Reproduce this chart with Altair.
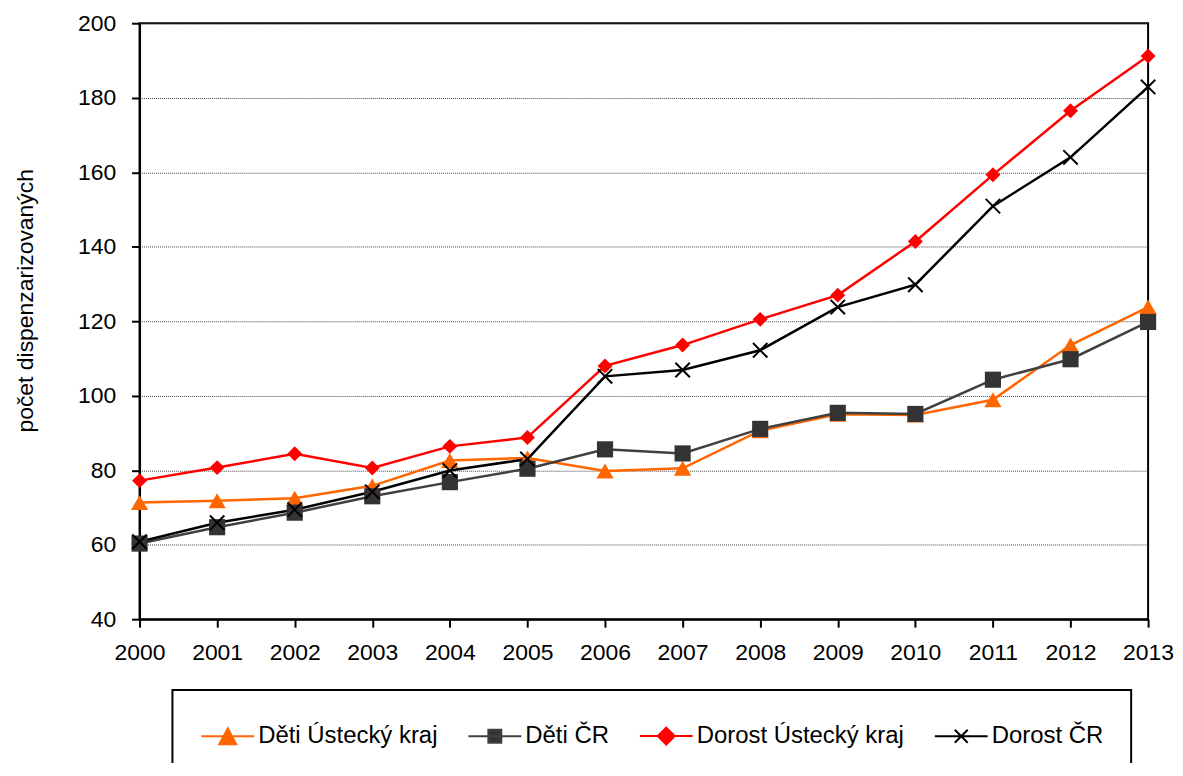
import altair as alt
import pandas as pd

years = [str(y) for y in range(2000, 2014)]
series = ["Děti Ústecký kraj", "Děti ČR", "Dorost Ústecký kraj", "Dorost ČR"]
colors = ["#FF6600", "#404040", "#FF0000", "#000000"]

deti_ust = [71.3, 71.8, 72.5, 75.8, 82.6, 83.3, 79.8, 80.5, 90.6, 95.0, 94.8, 98.9, 113.6, 123.8]
deti_cr = [60.3, 64.7, 68.6, 73.0, 76.8, 80.4, 85.6, 84.5, 91.1, 95.4, 95.1, 104.3, 109.8, 119.8]
dorost_ust = [77.2, 80.7, 84.4, 80.6, 86.4, 88.8, 108.0, 113.6, 120.5, 127.0, 141.4, 159.3, 176.5, 191.2]
dorost_cr = [60.8, 65.9, 69.4, 74.2, 79.9, 83.0, 105.2, 106.9, 112.2, 123.8, 129.8, 150.9, 164.0, 182.9]

y_ticks = [40, 60, 80, 100, 120, 140, 160, 180, 200]

rows = []
for name, vals in zip(series, [deti_ust, deti_cr, dorost_ust, dorost_cr]):
    for yr, v in zip(years, vals):
        rows.append({"rok": yr, "hodnota": v, "serie": name})
df = pd.DataFrame(rows)

FONT = "Liberation Sans"
XPATH = "M-1,-1L1,1M-1,1L1,-1"

x_enc = alt.X(
    "rok:O",
    scale=alt.Scale(type="point", padding=0),
    axis=alt.Axis(title=None, labelAngle=0, labelFontSize=23, labelPadding=14,
                  tickSize=8, grid=False),
)
y_enc = alt.Y(
    "hodnota:Q",
    scale=alt.Scale(domain=[40, 200], nice=False, zero=False),
    axis=alt.Axis(
        title="počet dispenzarizovaných", values=y_ticks, labelFontSize=23,
        labelPadding=16, tickSize=8, grid=True, gridColor="#404040",
        gridDash=[1, 1], gridWidth=1, titleFontSize=23, titleFontWeight="normal",
        titleAngle=270, titleX=-114, titleY=278, titleAlign="center",
        titleBaseline="middle",
    ),
)

base = alt.Chart(df)

lines = base.mark_line(strokeWidth=2.5).encode(
    x=x_enc, y=y_enc,
    color=alt.Color("serie:N", scale=alt.Scale(domain=series, range=colors), legend=None),
)

filled_series = series[:3]
pts = base.transform_filter(
    alt.FieldOneOfPredicate(field="serie", oneOf=filled_series)
).mark_point(filled=True, opacity=1, stroke=None).encode(
    x=x_enc, y=y_enc,
    color=alt.Color("serie:N", scale=alt.Scale(domain=filled_series,
                                                range=["#FF6600", "#333333", "#FF0000"]),
                    legend=None),
    shape=alt.Shape("serie:N", scale=alt.Scale(domain=filled_series,
                                                range=["triangle-up", "square", "diamond"]),
                    legend=None),
    size=alt.Size("serie:N", scale=alt.Scale(domain=filled_series, range=[300, 225, 290]),
                  legend=None),
)

xpts = base.transform_filter(
    alt.FieldEqualPredicate(field="serie", equal="Dorost ČR")
).mark_point(shape=XPATH, filled=False, color="#000000", strokeWidth=2, size=210, opacity=1).encode(
    x=x_enc, y=y_enc,
)

# legend-only layer (marks placed outside the view and clipped)
s = 0.528
leg_paths = [
    f"M-0.944,0H2.0M{s},-0.444L{s+0.472},0.444L{s-0.472},0.444Z",
    f"M-0.944,0H2.0M{s-0.361},-0.361H{s+0.361}V0.361H{s-0.361}Z",
    f"M-0.944,0H2.0M{s},-0.472L{s+0.472},0L{s},0.472L{s-0.472},0Z",
    f"M-0.944,0H2.0M{s-0.361},-0.361L{s+0.361},0.361M{s-0.361},0.361L{s+0.361},-0.361",
]
legend_def = alt.Legend(
    title=None, orient="none", legendX=33, legendY=669, direction="horizontal",
    columns=4, padding=27, strokeColor="#000000", labelFontSize=24, labelFont=FONT,
    labelColor="#000000", labelOffset=21, columnPadding=26, symbolSize=1296,
    symbolStrokeWidth=2, labelLimit=400,
)
leg = base.mark_point(filled=True, strokeWidth=2, clip=True, opacity=1).encode(
    x=x_enc,
    y=alt.value(-3000),
    fill=alt.Fill("serie:N", scale=alt.Scale(domain=series, range=["#FF6600", "#333333", "#FF0000", "#000000"]),
                  legend=legend_def),
    stroke=alt.Stroke("serie:N", scale=alt.Scale(domain=series, range=colors), legend=legend_def),
    shape=alt.Shape("serie:N", scale=alt.Scale(domain=series, range=leg_paths), legend=legend_def),
)

chart = alt.layer(lines, pts, xpts, leg).resolve_scale(
    color="independent", shape="independent", fill="independent",
    stroke="independent", size="independent",
).properties(
    width=1012, height=598,
    autosize=alt.AutoSizeParams(type="none"),
    padding={"left": 132, "top": 14, "right": 27, "bottom": 143},
).configure_axis(
    labelFont=FONT, titleFont=FONT, labelColor="#000000", titleColor="#000000",
    domainColor="#000000", domainWidth=2, tickColor="#000000", tickWidth=2,
).configure_legend(
    strokeWidth=2,
).configure_view(
    stroke="#000000", strokeWidth=2,
)

chart.save("out.html", embed_options={"renderer": "svg", "actions": False})
